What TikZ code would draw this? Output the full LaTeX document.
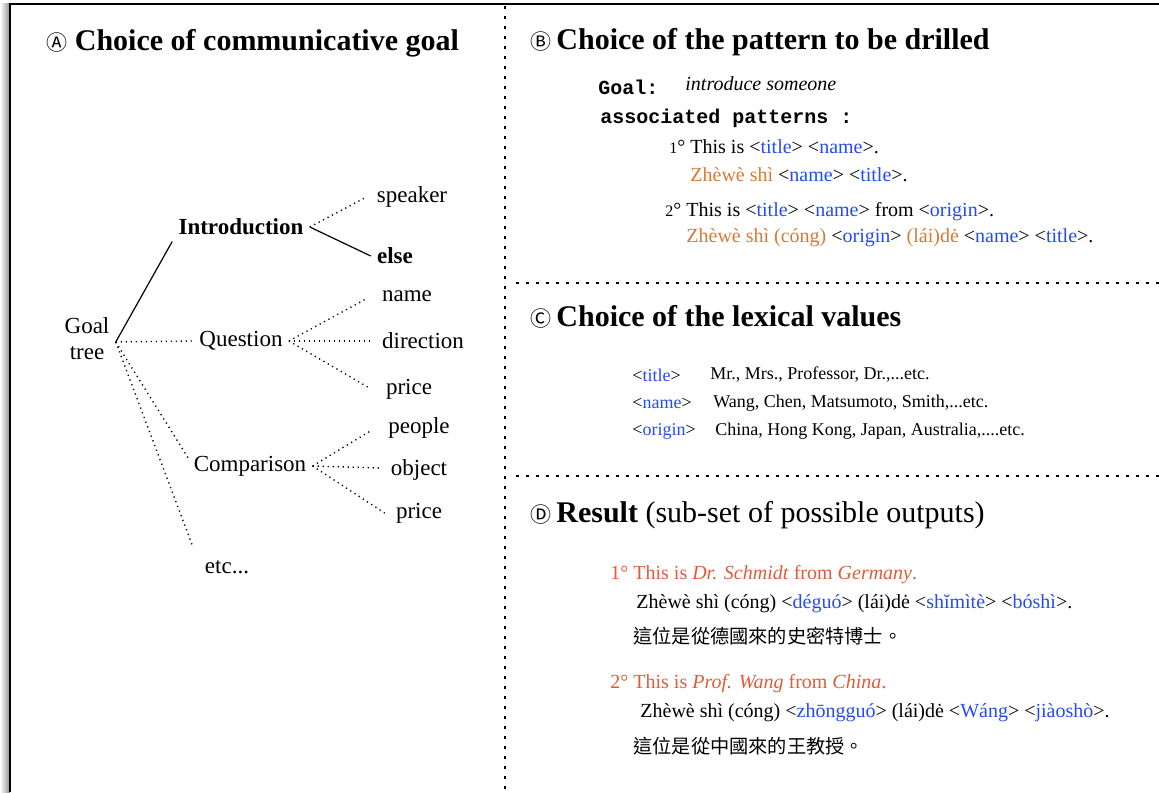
\documentclass[tikz,border=0pt]{standalone}
\usepackage{fontspec}
\setmainfont{Liberation Serif}
\setmonofont{Liberation Mono}
\newfontfamily\cjk{Noto Sans CJK TC}
\usetikzlibrary{calc}
\definecolor{slotblue}{RGB}{35,75,245}
\definecolor{pinyin}{RGB}{214,122,52}
\definecolor{result}{RGB}{222,92,58}
\def\patslot#1{<\textcolor{slotblue}{#1}>}
\def\circled#1{{\cjk\mdseries\fontsize{10.5}{10}\selectfont #1}}
\tikzset{
  hd/.style={anchor=west, inner sep=0pt, font=\fontsize{15}{18}\selectfont\bfseries},
  leaf/.style={inner sep=3pt, font=\fontsize{11.5}{13}\selectfont},
  txt/.style={anchor=west, inner sep=0pt, font=\fontsize{10}{12}\selectfont},
  small/.style={anchor=west, inner sep=0pt, font=\fontsize{9}{11}\selectfont},
  sep/.style={line width=1pt, dash pattern=on 1.5pt off 3.5pt},
  twig/.style={line width=0.7pt, dash pattern=on 0.6pt off 1.9pt},
  solid twig/.style={line width=0.6pt},
}
\begin{document}
\begin{tikzpicture}[x=0.5pt, y=-0.5pt]
			%%%%% FRAME %%%%%
			\useasboundingbox (0,0) rectangle (1159,792);
			\shade[left color=white, right color=black!45] (0,4) rectangle (10,792);
			\draw[line width=1.1pt] (1159,4) -- (10,4) -- (10,792);
			
			\draw[sep] (505,6) -- (505,792);
			\draw[sep] (516,283) -- (1159,283);
			\draw[sep] (516,476) -- (1159,476);
			
			%%%%% A : goal tree %%%%%
			\node[hd] (ha) at (46,43) {\circled{Ⓐ} Choice of communicative goal};
			
			\node[leaf, align=center] (goal) at (87,339) {Goal\\tree};
			\node[leaf, font=\fontsize{11.5}{13}\selectfont\bfseries] (intro) at (241,227) {Introduction};
			\node[leaf] (speaker) at (412,197) {speaker};
			\node[leaf, font=\fontsize{11.5}{13}\selectfont\bfseries] (else) at (395,256) {else};
			\node[leaf] (quest) at (241,341) {Question};
			\node[leaf] (qname) at (407,296) {name};
			\node[leaf] (qdir) at (423,341) {direction};
			\node[leaf] (qprice) at (409,389) {price};
			\node[leaf] (comp) at (250,466) {Comparison};
			\node[leaf] (cpeople) at (419,428) {people};
			\node[leaf] (cobject) at (419,470) {object};
			\node[leaf] (cprice) at (419,513) {price};
			\node[leaf] (etc) at (227,567) {etc...};
			
			\coordinate (root) at ($(goal.east)+(0,3)$);
			\draw[solid twig] (root) -- (intro.south west);
			\draw[twig] (root) -- (quest.west);
			\draw[twig] (root) -- ($(comp.west)+(2,-6)$);
			\draw[twig] (root) -- ($(etc.north west)+(-6,-8)$);
			
			\draw[twig] (intro.east) -- ($(speaker.west)+(-4,0)$);
			\draw[solid twig] (intro.east) -- (else.west);
			\draw[twig] (quest.east) -- ($(qname.west)+(-8,2)$);
			\draw[twig] (quest.east) -- ($(qdir.west)+(-4,0)$);
			\draw[twig] (quest.east) -- ($(qprice.west)+(-12,-2)$);
			\draw[twig] (comp.east) -- ($(cpeople.west)+(-10,2)$);
			\draw[twig] (comp.east) -- ($(cobject.west)+(-4,-2)$);
			\draw[twig] (comp.east) -- ($(cprice.west)+(-2,2)$);
			
			%%%%% B : pattern %%%%%
			\node[hd] (hb) at (530,42) {\circled{Ⓑ}\,Choice of the pattern to be drilled};
			\node[txt, font=\fontsize{10}{12}\selectfont\ttfamily\bfseries] (goalkey) at (598,87) {Goal:};
			\node[txt, font=\fontsize{10}{12}\selectfont\itshape] (goalval) at (685,84) {introduce someone};
			\node[txt, font=\fontsize{10}{12}\selectfont\ttfamily\bfseries] (assoc) at (600,118) {associated patterns :};
			\node[txt] (pone) at (669,147) {{\fontsize{8}{10}\selectfont 1}° This is \patslot{title} \patslot{name}.};
			\node[txt] (pinone) at (690,175) {\textcolor{pinyin}{Zhèwè shì} \patslot{name} \patslot{title}.};
			\node[txt] (ptwo) at (665,212) {{\fontsize{8}{10}\selectfont 2}° This is \patslot{title} \patslot{name} from \patslot{origin}.};
			\node[txt] (pintwo) at (686,238) {\textcolor{pinyin}{Zhèwè shì (cóng)} \patslot{origin} \textcolor{pinyin}{(lái)dė} \patslot{name} \patslot{title}.};
			
			%%%%% C : lexical values %%%%%
			\node[hd] (hc) at (530,317) {\circled{Ⓒ}\,Choice of the lexical values};
			\node[small] (ktitle) at (632,375) {\patslot{title}};
			\node[small] (vtitle) at (710,375) {Mr., Mrs., Professor, Dr.,...etc.};
			\node[small] (kname) at (632,403) {\patslot{name}};
			\node[small] (vname) at (713,403) {Wang, Chen, Matsumoto, Smith,...etc.};
			\node[small] (korigin) at (632,431) {\patslot{origin}};
			\node[small] (vorigin) at (715,431) {China, Hong Kong, Japan, Australia,....etc.};
			
			%%%%% D : result %%%%%
			\node[hd] (hd) at (530,515) {\circled{Ⓓ}\,Result \mdseries(sub-set of possible outputs)};
			\node[txt, text=result] (rone) at (610,575) {1° This is \textit{Dr. Schmidt} from \textit{Germany}.};
			\node[txt] (rpinone) at (636,604) {Zhèwè shì (cóng) \patslot{déguó} (lái)dė \patslot{shĭmìtè} \patslot{bóshì}.};
			\node[txt, font=\fontsize{9.6}{12}\selectfont\cjk] (rhanone) at (633,636) {這位是從德國來的史密特博士。};
			\node[txt, text=result] (rtwo) at (610,684) {2° This is \textit{Prof. Wang} from \textit{China}.};
			\node[txt] (rpintwo) at (640,713) {Zhèwè shì (cóng) \patslot{zhōngguó} (lái)dė \patslot{Wáng} \patslot{jiàoshò}.};
			\node[txt, font=\fontsize{9.6}{12}\selectfont\cjk] (rhantwo) at (633,746) {這位是從中國來的王教授。};
		\end{tikzpicture}
\end{document}
